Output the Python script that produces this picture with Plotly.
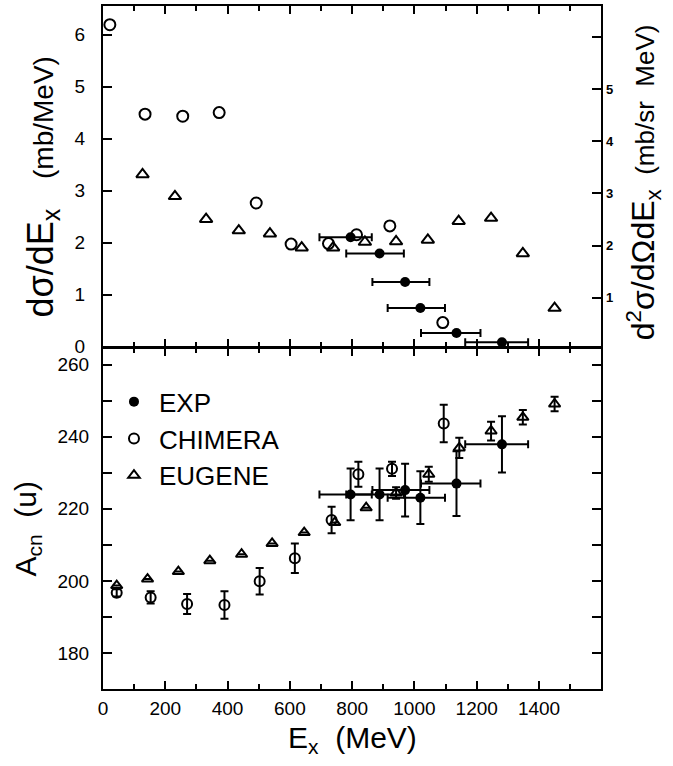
import numpy as np
import plotly.graph_objects as go

# ---- Data -------------------------------------------------------------
# Experimental points (both panels share E_x bins)
exp_ex = [795, 888, 970, 1019, 1135, 1281]
exp_ex_lo = [695, 781, 865, 914, 1021, 1163]
exp_ex_hi = [863, 966, 1048, 1098, 1212, 1365]
exp_dsig = [2.10, 1.79, 1.24, 0.74, 0.26, 0.08]
exp_acn = [224.0, 224.0, 225.2, 223.1, 227.0, 237.9]
exp_acn_err = [7.2, 7.2, 7.3, 7.3, 9.0, 7.8]

# CHIMERA calculation
chim_ex_top = [22, 135, 256, 373, 492, 604, 724, 814, 921, 1091]
chim_dsig = [6.19, 4.47, 4.43, 4.50, 2.76, 1.97, 1.98, 2.15, 2.32, 0.46]
chim_ex_bot = [44, 153, 270, 390, 503, 616, 734, 820, 928, 1094]
chim_acn = [196.7, 195.4, 193.6, 193.3, 199.9, 206.3, 216.9, 229.6, 231.1, 243.7]
chim_acn_err = [1.0, 1.7, 2.8, 3.8, 3.7, 4.1, 3.7, 3.5, 2.0, 5.2]

# EUGENE calculation
eug_ex_top = [127, 231, 331, 436, 536, 638, 739, 841, 941, 1043, 1142, 1246, 1348, 1450]
eug_dsig = [3.31, 2.89, 2.45, 2.23, 2.17, 1.90, 1.90, 2.01, 2.02, 2.05, 2.41, 2.47, 1.79, 0.74]
eug_ex_bot = [44, 143, 242, 343, 445, 543, 646, 744, 845, 941, 1046, 1144, 1246, 1348, 1450]
eug_acn = [198.7, 200.5, 202.6, 205.6, 207.4, 210.4, 213.4, 216.2, 220.3, 224.4,
           229.6, 236.9, 241.6, 245.4, 249.1]
eug_acn_err = [0, 0, 0, 0, 0, 0, 0, 0, 0, 1.6, 2.1, 2.8, 2.6, 2.0, 2.0]

# Tick labels
x_ticks = [0, 200, 400, 600, 800, 1000, 1200, 1400]
right_ticks = [1, 2, 3, 4, 5, 6]
right_ticktext = ["1", "2", "3", "4", "5", ""]

# ---- Figure -----------------------------------------------------------
FONT = "Liberation Sans, Arial, sans-serif"
BLACK = "black"
PLOT_H = 766 - 4 - 77          # height of the plotting area in pixels
HALF_LINE = 1.0 / PLOT_H       # shift so the shared middle frame lines coincide
EN = "\u2002"

ex_plus = list(np.array(exp_ex_hi) - np.array(exp_ex))
ex_minus = list(np.array(exp_ex) - np.array(exp_ex_lo))

fig = go.Figure()

# Top panel: cross sections
fig.add_trace(go.Scatter(
    x=chim_ex_top, y=chim_dsig, mode="markers", xaxis="x", yaxis="y",
    marker=dict(symbol="circle-open", size=11, color=BLACK, line=dict(width=2)),
    showlegend=False))
fig.add_trace(go.Scatter(
    x=eug_ex_top, y=eug_dsig, mode="markers", xaxis="x", yaxis="y",
    marker=dict(symbol="triangle-up-open", size=11, color=BLACK, line=dict(width=2)),
    showlegend=False))
fig.add_trace(go.Scatter(
    x=exp_ex, y=exp_dsig, mode="markers", xaxis="x", yaxis="y",
    marker=dict(symbol="circle", size=10, color=BLACK),
    error_x=dict(type="data", symmetric=False, array=ex_plus, arrayminus=ex_minus,
                 color=BLACK, thickness=2, width=4),
    showlegend=False))
# empty trace that registers the right-hand double-differential axis
fig.add_trace(go.Scatter(x=[], y=[], xaxis="x", yaxis="y3", showlegend=False,
                         hoverinfo="skip"))

# Bottom panel: compound-nucleus mass
fig.add_trace(go.Scatter(
    x=exp_ex, y=exp_acn, mode="markers", xaxis="x2", yaxis="y2", name="EXP",
    marker=dict(symbol="circle", size=10, color=BLACK),
    error_x=dict(type="data", symmetric=False, array=ex_plus, arrayminus=ex_minus,
                 color=BLACK, thickness=2, width=4),
    error_y=dict(type="data", array=exp_acn_err, color=BLACK, thickness=2, width=4)))
fig.add_trace(go.Scatter(
    x=chim_ex_bot, y=chim_acn, mode="markers", xaxis="x2", yaxis="y2", name="CHIMERA",
    marker=dict(symbol="circle-open", size=10, color=BLACK, line=dict(width=2)),
    error_y=dict(type="data", array=chim_acn_err, color=BLACK, thickness=2, width=4)))
fig.add_trace(go.Scatter(
    x=eug_ex_bot, y=eug_acn, mode="markers", xaxis="x2", yaxis="y2", name="EUGENE",
    marker=dict(symbol="triangle-up-open", size=10, color=BLACK, line=dict(width=2)),
    error_y=dict(type="data", array=eug_acn_err, color=BLACK, thickness=2, width=4)))

axis_common = dict(showline=True, linecolor=BLACK, linewidth=2, showgrid=False,
                   zeroline=False, ticks="inside", tickcolor=BLACK, tickwidth=2)

xaxis_common = dict(axis_common, range=[0, 1599], tickvals=x_ticks, ticklen=8,
                    minor=dict(dtick=100, tick0=0, ticks="inside", ticklen=5,
                               tickcolor=BLACK, tickwidth=2),
                    mirror="ticks")

fig.update_layout(
    width=673, height=766,
    margin=dict(l=103, r=72, t=4, b=77),
    paper_bgcolor="white", plot_bgcolor="white",
    font=dict(family=FONT, color=BLACK, size=19),
    xaxis=dict(xaxis_common, domain=[0, 1], anchor="y", showticklabels=False),
    xaxis2=dict(xaxis_common, domain=[0, 1], anchor="y2", showticklabels=True,
                tickfont=dict(size=19), ticklabelstandoff=1),
    yaxis=dict(axis_common, domain=[0.5 + HALF_LINE, 1], anchor="x", range=[0, 6.55],
               dtick=1, ticklen=9, mirror=True, tickfont=dict(size=19),
               ticklabelstandoff=12),
    yaxis3=dict(overlaying="y", side="right", anchor="x", range=[0.068, 6.59],
                tickvals=right_ticks, ticktext=right_ticktext, ticks="inside",
                ticklen=9, tickwidth=2, tickcolor=BLACK, showgrid=False,
                zeroline=False, showline=False,
                tickfont=dict(size=13, family="Liberation Sans, Arial", weight="bold"),
                ticklabelstandoff=4),
    yaxis2=dict(axis_common, domain=[0, 0.5 - HALF_LINE], anchor="x2", range=[170, 264.5],
                dtick=20, ticklen=9, mirror="ticks", tickfont=dict(size=19),
                ticklabelstandoff=8,
                minor=dict(dtick=10, ticks="inside", ticklen=9, tickcolor=BLACK,
                           tickwidth=2)),
    legend=dict(x=0.012, y=0.455, xanchor="left", yanchor="top",
                font=dict(size=26, family=FONT), bgcolor="rgba(0,0,0,0)",
                tracegroupgap=0, itemsizing="trace", itemwidth=40),
    showlegend=True,
)

# Axis titles (symbol part drawn larger than the units, as on the original axes)
left_sym = "dσ/dE<sub>x</sub>"
right_sym = "d<sup>2</sup>σ/dΩdE<sub>x</sub>"
titles = [
    dict(text="E<sub>x</sub>  (MeV)", x=0.5, y=-0.0745, textangle=0, size=30),
    dict(text=f"<span style='font-size:36px'>{left_sym}</span>  {EN}(mb/MeV)",
         x=-0.1205, y=0.7358, textangle=-90, size=28),
    dict(text="A<sub>cn</sub>  (u)", x=-0.1526, y=0.235, textangle=-90, size=30),
    dict(text=f"<span style='font-size:32px'>{right_sym}</span>  (mb/sr  MeV)",
         x=1.0843, y=0.742, textangle=-90, size=26),
]
for t in titles:
    fig.add_annotation(text=t["text"], x=t["x"], y=t["y"], xref="paper", yref="paper",
                       xanchor="center", yanchor="middle", textangle=t["textangle"],
                       showarrow=False, font=dict(size=t["size"], family=FONT, color=BLACK))

fig.write_html("out.html")
